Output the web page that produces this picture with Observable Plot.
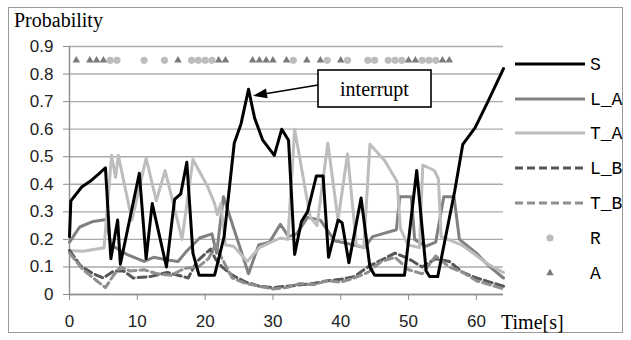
<!DOCTYPE html>
<html><head><meta charset="utf-8">
<script src="https://cdn.jsdelivr.net/npm/d3@7"></script>
<script src="https://cdn.jsdelivr.net/npm/@observablehq/plot@0.6"></script>
<style>
body{margin:0;background:#fff}
.serif{font-family:"Liberation Serif","Times New Roman",Tinos,"Noto Serif","DejaVu Serif","Nimbus Roman","FreeSerif",Times,serif !important;}
.mono{font-family:"Liberation Mono","Courier New",Cousine,"Nimbus Mono PS","FreeMono","DejaVu Sans Mono",monospace !important;}
</style>
</head><body><div id="chart"></div>
<script>
// ---- data ----
const xTicks = [0, 10, 20, 30, 40, 50, 60];
const yTicks = [0, 0.1, 0.2, 0.3, 0.4, 0.5, 0.6, 0.7, 0.8, 0.9];
const seriesNames = ["S", "L_A", "T_A", "L_B", "T_B", "R", "A"];

const sT = [0, 0.2, 1.8, 3, 4.2, 5.3, 6.1, 7.1, 7.5, 10.3, 11.3, 12.2, 14.3, 15.5, 16.4, 17.3, 18.2, 19.1, 21.4, 22.8, 24.3, 25.3, 26.4, 27.3, 28.5, 30.2, 31.3, 32.3, 33.2, 34.2, 35.1, 36.4, 37.4, 38.2, 39.6, 40.2, 41.2, 43, 44.3, 45, 49.4, 51.2, 52.6, 53.1, 54.3, 56.8, 58, 59.8, 61.7, 64];
const sV = [0.21, 0.34, 0.39, 0.41, 0.435, 0.46, 0.13, 0.27, 0.11, 0.44, 0.13, 0.33, 0.10, 0.345, 0.365, 0.48, 0.15, 0.07, 0.07, 0.21, 0.55, 0.62, 0.745, 0.64, 0.56, 0.505, 0.60, 0.56, 0.145, 0.265, 0.30, 0.43, 0.43, 0.135, 0.27, 0.26, 0.115, 0.35, 0.10, 0.07, 0.07, 0.45, 0.085, 0.065, 0.065, 0.375, 0.545, 0.605, 0.70, 0.82];

const laT = [0, 1.5, 3.5, 5.4, 6.1, 8.5, 11, 12.4, 14.5, 16, 17.3, 19.2, 21, 21.7, 22.7, 26.4, 27.9, 29.5, 31.1, 32.3, 33.5, 35.1, 37, 39.1, 41, 43.5, 44.7, 48.2, 48.7, 50.4, 50.9, 52.5, 54, 55.2, 56.7, 57.5, 60, 62, 64];
const laV = [0.19, 0.245, 0.265, 0.272, 0.18, 0.145, 0.12, 0.135, 0.125, 0.12, 0.158, 0.205, 0.22, 0.15, 0.355, 0.075, 0.18, 0.19, 0.255, 0.21, 0.22, 0.28, 0.27, 0.195, 0.185, 0.17, 0.21, 0.235, 0.355, 0.355, 0.2, 0.175, 0.19, 0.355, 0.355, 0.2, 0.15, 0.1, 0.06];

const taT = [0, 2, 5.1, 6.2, 6.8, 7.2, 9.2, 11.3, 12.8, 14.1, 15.6, 16.6, 18.2, 20.4, 21.4, 21.8, 22.3, 23, 24.2, 26.2, 28, 31.1, 32.2, 33.2, 35.5, 36.5, 38.1, 39.6, 41, 42.3, 43.4, 44.3, 46.5, 48.3, 48.8, 49.9, 51.6, 52.1, 53.8, 54.4, 54.8, 57.8, 59.8, 61.7, 64];
const taV = [0.16, 0.157, 0.17, 0.505, 0.425, 0.505, 0.27, 0.495, 0.34, 0.45, 0.3, 0.2, 0.49, 0.39, 0.33, 0.29, 0.33, 0.18, 0.175, 0.12, 0.17, 0.205, 0.2, 0.6, 0.28, 0.25, 0.55, 0.27, 0.51, 0.18, 0.17, 0.545, 0.485, 0.41, 0.24, 0.18, 0.17, 0.47, 0.45, 0.42, 0.21, 0.18, 0.145, 0.11, 0.08];

const lbT = [0, 1.6, 3.5, 5, 6.5, 8, 9.4, 11.9, 14.4, 16, 17.5, 18.8, 20.8, 21.5, 22.5, 24, 26, 28, 30, 32, 34, 36, 38, 40, 42, 44, 46, 48, 50, 52, 54, 56, 58, 60, 62, 64];
const lbV = [0.16, 0.105, 0.075, 0.06, 0.085, 0.085, 0.06, 0.065, 0.08, 0.07, 0.06, 0.12, 0.165, 0.13, 0.1, 0.07, 0.045, 0.03, 0.025, 0.03, 0.035, 0.04, 0.05, 0.055, 0.065, 0.1, 0.125, 0.15, 0.13, 0.1, 0.13, 0.12, 0.08, 0.06, 0.045, 0.03];

const tbT = [0, 2, 4, 5.3, 6.5, 7.5, 9, 11, 13, 15, 17, 19, 20.5, 21.5, 22.5, 24, 26, 28, 30, 32, 34, 36, 38, 40, 42, 44, 46, 48, 50, 52, 54, 56, 58, 60, 62, 64];
const tbV = [0.15, 0.09, 0.05, 0.025, 0.07, 0.1, 0.085, 0.09, 0.075, 0.07, 0.095, 0.1, 0.13, 0.18, 0.13, 0.06, 0.04, 0.03, 0.02, 0.025, 0.04, 0.035, 0.05, 0.045, 0.06, 0.08, 0.12, 0.135, 0.09, 0.075, 0.14, 0.1, 0.08, 0.05, 0.035, 0.02];

const rTimes = [6, 7, 11, 14, 18, 19, 20, 21, 33, 38, 41, 44, 45, 47, 48, 49, 52, 53, 54];
const aTimes = [1, 3, 4, 5, 16, 22, 23, 27, 28, 29, 30, 32, 35, 37, 40, 50, 51, 55, 56];
const markerLevel = 0.85;

const annotText = "interrupt";
const annotBefore = 40; // the annotated peak of S lies before this time

// ---- build tables ----
const zip = (T, V) => T.slice(0, Math.min(T.length, V.length)).map((t, i) => ({t, v: V[i]}));
const S = zip(sT, sV), LA = zip(laT, laV), TA = zip(taT, taV), LB = zip(lbT, lbV), TB = zip(tbT, tbV);
const R = rTimes.map(t => ({t, v: markerLevel}));
const A = aTimes.map(t => ({t, v: markerLevel}));
const peak = S.filter(d => d.t < annotBefore).reduce((a, b) => (b.v > a.v ? b : a));

const styles = {
  S:   {stroke: "#000000", dash: null},
  L_A: {stroke: "#808080", dash: null},
  T_A: {stroke: "#bdbdbd", dash: null},
  L_B: {stroke: "#575757", dash: "8,4"},
  T_B: {stroke: "#8f8f8f", dash: "8,4"},
  R:   {fill: "#bdbdbd"},
  A:   {fill: "#7a7a7a"}
};

const lineOpts = (k) => ({x: "t", y: "v", stroke: styles[k].stroke, strokeWidth: 3, strokeDasharray: styles[k].dash, strokeLinejoin: "round"});

const chart = Plot.plot({
  width: 631, height: 340,
  marginLeft: 69, marginRight: 128, marginTop: 46, marginBottom: 46,
  x: {domain: [0, 64]},
  y: {domain: [0, 0.9]},
  style: {fontFamily: "'Liberation Sans', Arial, sans-serif", fontSize: "17px", color: "#000", background: "#fff", overflow: "visible"},
  marks: [
    Plot.gridY(yTicks, {stroke: "#ababab", strokeOpacity: 1, strokeWidth: 1.4}),
    Plot.axisY(yTicks, {tickSize: 6, tickPadding: 10, stroke: "#8c8c8c", fill: "#222", label: null, fontSize: 17,
      tickFormat: d => d === 0 ? "0" : d3.format(".1f")(d)}),
    Plot.axisX(xTicks, {tickSize: 6, tickPadding: 14, stroke: "#8c8c8c", fill: "#222", label: null, fontSize: 17}),
    Plot.ruleX([0], {stroke: "#8c8c8c", strokeWidth: 1.4}),
    Plot.ruleY([0], {stroke: "#8c8c8c", strokeWidth: 1.4}),
    Plot.line(LA, lineOpts("L_A")),
    Plot.line(TA, lineOpts("T_A")),
    Plot.line(LB, lineOpts("L_B")),
    Plot.line(TB, lineOpts("T_B")),
    Plot.line(S, lineOpts("S")),
    Plot.dot(R, {x: "t", y: "v", r: 3.6, fill: styles.R.fill, stroke: "none"}),
    Plot.dot(A, {x: "t", y: "v", r: 2.8, symbol: "triangle", fill: styles.A.fill, stroke: "none"})
  ]
});
document.getElementById("chart").appendChild(chart);

const svg = d3.select(chart);
const sx = chart.scale("x"), sy = chart.scale("y");

// outer chart-area border
svg.insert("rect", ":first-child").attr("x", 8.5).attr("y", 7.5).attr("width", 614).attr("height", 325)
  .attr("fill", "#fff").attr("stroke", "#9a9a9a").attr("stroke-width", 1);

// titles
svg.append("text").attr("class", "serif").attr("x", 14).attr("y", 27).text("Probability")
  .style("font-size", "20px").style("text-anchor", "start").style("font-weight", "normal").attr("fill", "#000");
svg.append("text").attr("class", "serif").attr("x", 501).attr("y", 329).text("Time[s]")
  .style("font-size", "20px").style("text-anchor", "start").style("font-weight", "normal").attr("fill", "#000");

// annotation box + arrow pointing to S peak
const bx1 = 318, bx2 = 431, by1 = 70, by2 = 107;
svg.append("rect").attr("x", bx1).attr("y", by1).attr("width", bx2 - bx1).attr("height", by2 - by1)
  .attr("fill", "#fff").attr("stroke", "#000").attr("stroke-width", 1.6);
svg.append("text").attr("class", "serif").attr("x", (bx1 + bx2) / 2).attr("y", 96).text(annotText)
  .style("font-size", "20px").style("text-anchor", "middle").attr("fill", "#000");
const tipX = sx.apply(peak.t) + 5, tipY = sy.apply(peak.v) + 7;
const fromX = bx1, fromY = 85;
const ang = Math.atan2(tipY - fromY, tipX - fromX);
const hl = 14, hw = 5;
const baseX = tipX - hl * Math.cos(ang), baseY = tipY - hl * Math.sin(ang);
svg.append("line").attr("x1", fromX).attr("y1", fromY).attr("x2", baseX).attr("y2", baseY)
  .attr("stroke", "#000").attr("stroke-width", 1.5);
svg.append("path").attr("d", `M${tipX},${tipY}L${baseX + hw * Math.sin(ang)},${baseY - hw * Math.cos(ang)}L${baseX - hw * Math.sin(ang)},${baseY + hw * Math.cos(ang)}Z`)
  .attr("fill", "#000");

// legend
const legY = [64, 99, 133, 168, 203, 238, 273];
const lg = svg.append("g");
seriesNames.forEach((k, i) => {
  const y = legY[i];
  if (k === "R") {
    lg.append("circle").attr("cx", 550).attr("cy", y).attr("r", 3.6).attr("fill", styles.R.fill);
  } else if (k === "A") {
    lg.append("path").attr("d", d3.symbol(d3.symbolTriangle, Math.PI * 2.8 * 2.8)()).attr("transform", `translate(550,${y})`).attr("fill", styles.A.fill);
  } else {
    lg.append("line").attr("x1", 515).attr("x2", 585).attr("y1", y).attr("y2", y)
      .attr("stroke", styles[k].stroke).attr("stroke-width", 3).attr("stroke-dasharray", styles[k].dash);
  }
  lg.append("text").attr("class", "mono").attr("x", 590).attr("y", y).attr("dy", "0.35em").text(k)
    .style("font-size", "18px").style("text-anchor", "start").attr("fill", "#000");
});
</script></body></html>
